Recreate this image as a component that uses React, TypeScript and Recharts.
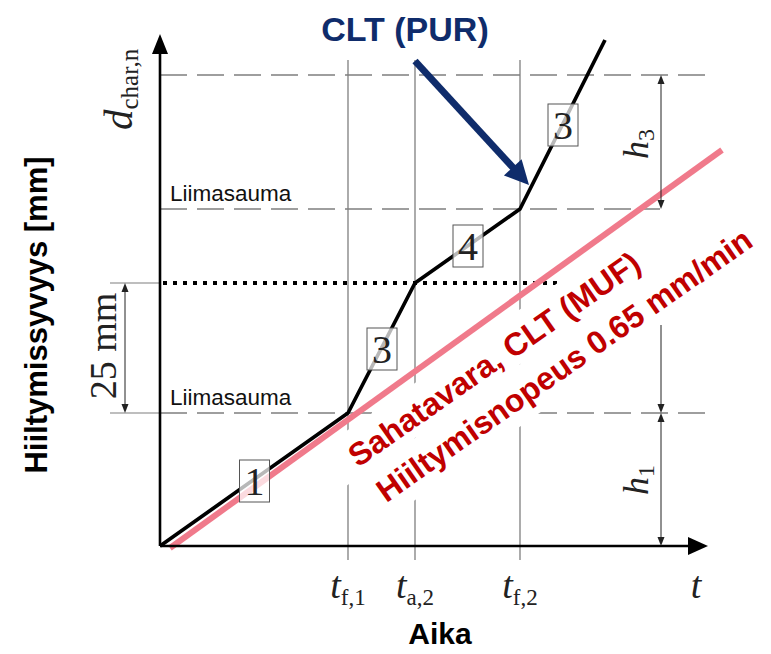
import React from "react";
import { ComposedChart, Line, XAxis, YAxis, ReferenceLine, ReferenceDot } from "recharts";

// charring depth (mm-ish units) against time
const charTime = [0, 37.6, 51, 72, 89];
const charDepth = [0, 26.6, 52.6, 67.4, 101.2];
// one-dimensional rate line (sawn timber / CLT MUF)
const rateTime = [2, 112.4];
const rateDepth = [-0.4, 79.2];

const tickTime = [37.6, 51, 72];
const tickSub = ["f,1", "a,2", "f,2"];
const glueDepth = [26.6, 67.4];
const lamellaDepth = 52.6;
const topDepth = 94.2;

const phaseNo = ["1", "3", "4", "3"];
const phaseTime = [18.9, 44.4, 61.6, 80.6];
const phaseDepth = [13, 39.4, 60, 84.2];

const charData = charTime.map((t, i) => ({ t, d: charDepth[i] }));
const rateData = rateTime.map((t, i) => ({ t, d: rateDepth[i] }));

const SANS = "'Liberation Sans', Arial, sans-serif";
const SERIF = "'Liberation Serif', 'Times New Roman', serif";
const GRAY = "#7f7f7f";
const RED = "#c00000";
const NAVY = "#0f2c6b";
const PINK = "#f07a8b";

function head(x: number, y: number, ux: number, uy: number, len: number, half: number) {
    const bx = x - ux * len;
    const by = y - uy * len;
    return `${x},${y} ${bx - uy * half},${by + ux * half} ${bx + uy * half},${by - ux * half}`;
}

function arrowShape(color: string, width: number, len: number, half: number, both: boolean) {
    return (p: any) => {
        const { x1, y1, x2, y2 } = p;
        const L = Math.hypot(x2 - x1, y2 - y1) || 1;
        const ux = (x2 - x1) / L;
        const uy = (y2 - y1) / L;
        const sx = both ? x1 + ux * len * 0.7 : x1;
        const sy = both ? y1 + uy * len * 0.7 : y1;
        return (
            <g>
                <line x1={sx} y1={sy} x2={x2 - ux * len * 0.7} y2={y2 - uy * len * 0.7} stroke={color} strokeWidth={width} />
                <polygon points={head(x2, y2, ux, uy, len, half)} fill={color} />
                {both && <polygon points={head(x1, y1, -ux, -uy, len, half)} fill={color} />}
            </g>
        );
    };
}

const textAt = (render: (x: number, y: number) => React.ReactElement) => (p: any) => render(p.cx, p.cy);

function PhaseBox(label: string) {
    return (p: any) => (
        <g>
            <rect x={p.cx - 15} y={p.cy - 21} width={30} height={42} fill="#fff" fillOpacity={0.72} stroke="#555" strokeWidth={1} />
            <text x={p.cx} y={p.cy + 14} textAnchor="middle" fontFamily={SERIF} fontSize={40} fill="#222">
                {label}
            </text>
        </g>
    );
}

export default function App() {
    let z = 0;
    const nz = () => ++z;
    return (
        <div style={{ width: 771, height: 654, background: "#fff" }}>
            <style>{"body{margin:0}"}</style>
            <ComposedChart width={771} height={654} margin={{ top: 0, right: 0, bottom: 0, left: 0 }}>
                <XAxis type="number" dataKey="t" domain={[-32, 122.2]} allowDataOverflow hide />
                <YAxis type="number" dataKey="d" domain={[-21.6, 109.2]} allowDataOverflow hide />

                {/* construction lines */}
                {tickTime.map((t, i) => (
                    <ReferenceLine key={"v" + i} segment={[{ x: t, y: -2.8 }, { x: t, y: 97.2 }]} stroke={GRAY} strokeWidth={1.3} ifOverflow="visible" zIndex={nz()} />
                ))}
                <ReferenceLine segment={[{ x: 0, y: topDepth }, { x: 109.6, y: topDepth }]} stroke={GRAY} strokeWidth={1.5} strokeDasharray="27 10" ifOverflow="visible" zIndex={nz()} />
                <ReferenceLine segment={[{ x: 0, y: glueDepth[1] }, { x: 100, y: glueDepth[1] }]} stroke={GRAY} strokeWidth={1.5} strokeDasharray="27 10" ifOverflow="visible" zIndex={nz()} />
                <ReferenceLine segment={[{ x: 0, y: glueDepth[0] }, { x: 110.6, y: glueDepth[0] }]} stroke={GRAY} strokeWidth={1.5} strokeDasharray="27 10" ifOverflow="visible" zIndex={nz()} />
                <ReferenceLine segment={[{ x: -10, y: glueDepth[0] }, { x: 0, y: glueDepth[0] }]} stroke={GRAY} strokeWidth={1.2} ifOverflow="visible" zIndex={nz()} />
                <ReferenceLine segment={[{ x: -10, y: lamellaDepth }, { x: 0, y: lamellaDepth }]} stroke={GRAY} strokeWidth={1.2} ifOverflow="visible" zIndex={nz()} />
                <ReferenceLine segment={[{ x: 0.6, y: lamellaDepth }, { x: 79.4, y: lamellaDepth }]} stroke="#000" strokeWidth={4} strokeDasharray="4 6" ifOverflow="visible" zIndex={nz()} />

                {/* rate annotation with white text boxes */}
                <ReferenceDot
                    x={39.6}
                    y={15.6}
                    r={0}
                    ifOverflow="visible"
                    zIndex={nz()}
                    shape={textAt((x, y) => (
                        <g transform={`translate(${x},${y}) rotate(-35)`}>
                            <rect x={-20} y={-37} width={385} height={45} fill="#fff" />
                            <rect x={-2} y={8} width={462} height={51} fill="#fff" />
                            <text x={0} y={0} fontFamily={SANS} fontWeight="bold" fontSize={32} fill={RED}>
                                Sahatavara, CLT (MUF)
                            </text>
                            <text x={3} y={45} fontFamily={SANS} fontWeight="bold" fontSize={32} fill={RED}>
                                Hiiltymisnopeus 0.65 mm/min
                            </text>
                        </g>
                    ))}
                />

                <Line data={charData} dataKey="d" type="linear" stroke="#000" strokeWidth={3.7} strokeLinejoin="round" dot={false} activeDot={false} isAnimationActive={false} zIndex={nz()} />
                <Line data={rateData} dataKey="d" type="linear" stroke={PINK} strokeWidth={6} dot={false} activeDot={false} isAnimationActive={false} zIndex={nz()} />

                {phaseNo.map((n, i) => (
                    <ReferenceDot key={"p" + i} x={phaseTime[i]} y={phaseDepth[i]} r={0} ifOverflow="visible" zIndex={nz()} shape={PhaseBox(n)} />
                ))}

                {/* axes */}
                <ReferenceLine segment={[{ x: 0, y: 0 }, { x: 109.6, y: 0 }]} ifOverflow="visible" zIndex={nz()} shape={arrowShape("#000", 2.6, 20, 9, false)} />
                <ReferenceLine segment={[{ x: 0, y: 0 }, { x: 0, y: 102.4 }]} ifOverflow="visible" zIndex={nz()} shape={arrowShape("#000", 2.6, 20, 8, false)} />

                {/* dimension lines */}
                <ReferenceLine segment={[{ x: -7, y: glueDepth[0] }, { x: -7, y: lamellaDepth }]} ifOverflow="visible" zIndex={nz()} shape={arrowShape("#222", 1, 9, 3.5, true)} />
                <ReferenceLine segment={[{ x: 100.2, y: glueDepth[1] }, { x: 100.2, y: topDepth }]} ifOverflow="visible" zIndex={nz()} shape={arrowShape("#222", 1, 9, 3.5, true)} />
                <ReferenceLine segment={[{ x: 100.2, y: 44.2 }, { x: 100.2, y: glueDepth[0] }]} ifOverflow="visible" zIndex={nz()} shape={arrowShape("#222", 1, 9, 3.5, false)} />
                <ReferenceLine segment={[{ x: 100.2, y: 0 }, { x: 100.2, y: glueDepth[0] }]} ifOverflow="visible" zIndex={nz()} shape={arrowShape("#222", 1, 9, 3.5, true)} />

                {/* CLT (PUR) arrow */}
                <ReferenceLine segment={[{ x: 51, y: 97 }, { x: 73.8, y: 72.2 }]} ifOverflow="visible" zIndex={nz()} shape={arrowShape(NAVY, 7, 24, 12, false)} />
                <ReferenceDot x={49} y={101} r={0} ifOverflow="visible" zIndex={nz()} shape={textAt((x, y) => (
                    <text x={x} y={y} textAnchor="middle" fontFamily={SANS} fontWeight="bold" fontSize={34} fill={NAVY}>CLT (PUR)</text>
                ))} />

                {/* glue line labels */}
                {glueDepth.map((g, i) => (
                    <ReferenceDot key={"g" + i} x={2} y={g + 1.6} r={0} ifOverflow="visible" zIndex={nz()} shape={textAt((x, y) => (
                        <text x={x} y={y} fontFamily={SANS} fontSize={22.5} fill="#111">Liimasauma</text>
                    ))} />
                ))}

                {/* axis symbols */}
                <ReferenceDot x={-5.6} y={83.2} r={0} ifOverflow="visible" zIndex={nz()} shape={textAt((x, y) => (
                    <text transform={`translate(${x},${y}) rotate(-90)`} fontFamily={SERIF} fill="#222">
                        <tspan fontStyle="italic" fontSize={41}>d</tspan>
                        <tspan fontSize={25} dy={6}>char,n</tspan>
                    </text>
                ))} />
                <ReferenceDot x={-8.8} y={40} r={0} ifOverflow="visible" zIndex={nz()} shape={textAt((x, y) => (
                    <text transform={`translate(${x},${y}) rotate(-90)`} textAnchor="middle" fontFamily={SERIF} fontSize={38} fill="#222">25 mm</text>
                ))} />
                {[80.4, 13.2].map((d, i) => (
                    <ReferenceDot key={"h" + i} x={97.6} y={d} r={0} ifOverflow="visible" zIndex={nz()} shape={textAt((x, y) => (
                        <text transform={`translate(${x},${y}) rotate(-90)`} textAnchor="middle" fontFamily={SERIF} fill="#222">
                            <tspan fontStyle="italic" fontSize={36}>h</tspan>
                            <tspan fontSize={24} dy={6}>{i === 0 ? "3" : "1"}</tspan>
                        </text>
                    ))} />
                ))}
                {tickTime.map((t, i) => (
                    <ReferenceDot key={"t" + i} x={t} y={-10.4} r={0} ifOverflow="visible" zIndex={nz()} shape={textAt((x, y) => (
                        <text x={x} y={y} textAnchor="middle" fontFamily={SERIF} fill="#222">
                            <tspan fontStyle="italic" fontSize={38}>t</tspan>
                            <tspan fontSize={23} dy={7}>{tickSub[i]}</tspan>
                        </text>
                    ))} />
                ))}
                <ReferenceDot x={107.2} y={-10.4} r={0} ifOverflow="visible" zIndex={nz()} shape={textAt((x, y) => (
                    <text x={x} y={y} textAnchor="middle" fontFamily={SERIF} fontStyle="italic" fontSize={38} fill="#222">t</text>
                ))} />

                {/* axis titles */}
                <ReferenceDot x={56} y={-19.6} r={0} ifOverflow="visible" zIndex={nz()} shape={textAt((x, y) => (
                    <text x={x} y={y} textAnchor="middle" fontFamily={SANS} fontWeight="bold" fontSize={30} fill="#000">Aika</text>
                ))} />
                <ReferenceDot x={-22.6} y={46.2} r={0} ifOverflow="visible" zIndex={nz()} shape={textAt((x, y) => (
                    <text transform={`translate(${x},${y}) rotate(-90)`} textAnchor="middle" fontFamily={SANS} fontWeight="bold" fontSize={31} fill="#000">Hiiltymissyvyys [mm]</text>
                ))} />
            </ComposedChart>
        </div>
    );
}
